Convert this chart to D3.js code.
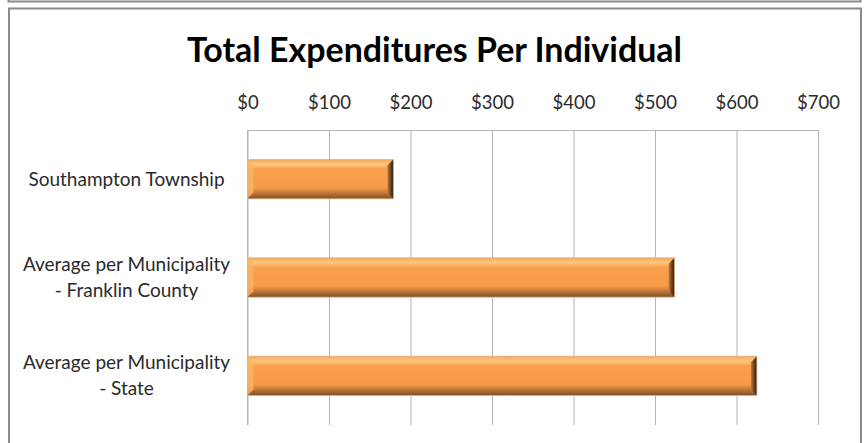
<!DOCTYPE html>
<html>
<head>
<meta charset="utf-8">
<script src="https://cdn.jsdelivr.net/npm/d3@7"></script>
<style>
  body { margin: 0; background: #fff; }
  svg { display: block; }
</style>
</head>
<body>
<div id="chart"></div>
<script>
var categories = [
  ["Southampton Township"],
  ["Average per Municipality", "- Franklin County"],
  ["Average per Municipality", "- State"]
];
var values = [179, 524, 625];
var tickValues = [0, 100, 200, 300, 400, 500, 600, 700];
var title = "Total Expenditures Per Individual";

var svg = d3.select("#chart").append("svg")
    .attr("width", 865)
    .attr("height", 443);

var margin = {top: 130, left: 247.5, right: 47, bottom: 18};
var width = 865 - margin.left - margin.right;
var height = 443 - margin.top - margin.bottom;

// frame of the chart above (only its bottom edge shows) and this chart's frame
svg.append("rect")
    .attr("x", 8.5).attr("y", -100)
    .attr("width", 852).attr("height", 101.5)
    .attr("fill", "none").attr("stroke", "#8a8a8a").attr("stroke-width", 2);
svg.append("rect")
    .attr("x", 9).attr("y", 8.5)
    .attr("width", 852).attr("height", 500)
    .attr("fill", "#fff").attr("stroke", "#8a8a8a").attr("stroke-width", 2);

svg.append("text")
    .attr("x", 434.5).attr("y", 62)
    .attr("text-anchor", "middle")
    .attr("font-family", "Lato, 'Open Sans', sans-serif")
    .attr("font-weight", "bold")
    .attr("font-size", "35px")
    .attr("textLength", 495)
    .attr("lengthAdjust", "spacingAndGlyphs")
    .attr("fill", "#000")
    .text(title);

var x = d3.scaleLinear().domain([0, 700]).range([0, width]);
var y = d3.scaleBand().domain(d3.range(categories.length)).range([0, height])
    .paddingInner(0.6).paddingOuter(0.3);

var g = svg.append("g").attr("transform", "translate(" + margin.left + "," + margin.top + ")");

// gridlines
g.append("g")
    .attr("class", "grid")
    .call(d3.axisBottom(x).tickValues(tickValues).tickSize(height).tickFormat(""))
    .call(function(s) {
      s.select(".domain").remove();
      s.selectAll("line").attr("stroke", "#b4b4b4");
    });

// top axis with labels
g.append("g")
    .call(d3.axisTop(x).tickValues(tickValues).tickSize(0).tickPadding(21)
      .tickFormat(function(d) { return "$" + d; }))
    .call(function(s) {
      s.select(".domain").attr("stroke", "#b4b4b4");
      s.selectAll("text")
        .attr("font-family", "Lato, sans-serif")
        .attr("font-size", "18.5px")
        .attr("fill", "#2a2a2a");
    });

// left axis line
g.append("line")
    .attr("x1", x(0)).attr("x2", x(0))
    .attr("y1", 0).attr("y2", height)
    .attr("stroke", "#b4b4b4");

// category labels
var labels = g.append("g");
categories.forEach(function(lines, i) {
  var cy = y(i) + y.bandwidth() / 2;
  var t = labels.append("text")
      .attr("x", -121)
      .attr("text-anchor", "middle")
      .attr("font-family", "Lato, sans-serif")
      .attr("font-size", "19px")
      .attr("fill", "#2a2a2a");
  lines.forEach(function(line, j) {
    t.append("tspan")
      .attr("x", -121)
      .attr("y", cy + 6.5 + (j - (lines.length - 1) / 2) * 26)
      .text(line);
  });
});

// gradients for the bevelled bars
var defs = svg.append("defs");
var body = defs.append("linearGradient").attr("id", "barBody")
    .attr("x1", 0).attr("y1", 0).attr("x2", 0).attr("y2", 1);
body.append("stop").attr("offset", "0%").attr("stop-color", "#f4a45e");
body.append("stop").attr("offset", "12%").attr("stop-color", "#fdc87c");
body.append("stop").attr("offset", "24%").attr("stop-color", "#f9a04e");
body.append("stop").attr("offset", "72%").attr("stop-color", "#f79a48");
body.append("stop").attr("offset", "84%").attr("stop-color", "#c47a3c");
body.append("stop").attr("offset", "100%").attr("stop-color", "#7e4f28");

var rightEnd = defs.append("linearGradient").attr("id", "barRight")
    .attr("x1", 0).attr("y1", 0).attr("x2", 1).attr("y2", 0);
rightEnd.append("stop").attr("offset", "0%").attr("stop-color", "#c98040");
rightEnd.append("stop").attr("offset", "50%").attr("stop-color", "#6e4624");
rightEnd.append("stop").attr("offset", "100%").attr("stop-color", "#2e1d10");

var b = 6;
var bars = g.selectAll(".bar").data(values).enter().append("g").attr("class", "bar");

bars.append("rect")
    .attr("x", x(0))
    .attr("y", function(d, i) { return y(i); })
    .attr("width", function(d) { return x(d) - x(0); })
    .attr("height", y.bandwidth())
    .attr("fill", "url(#barBody)");

// left bevel (light)
bars.append("polygon")
    .attr("points", function(d, i) {
      var x0 = x(0), y0 = y(i), y1 = y(i) + y.bandwidth();
      return [[x0, y0], [x0 + b, y0 + b], [x0 + b, y1 - b], [x0, y1]].join(" ");
    })
    .attr("fill", "#fbb466").attr("opacity", 0.8);

// right bevel (dark)
bars.append("polygon")
    .attr("points", function(d, i) {
      var x1 = x(d), y0 = y(i), y1 = y(i) + y.bandwidth();
      return [[x1 - b, y0 + b], [x1, y0], [x1, y1], [x1 - b, y1 - b]].join(" ");
    })
    .attr("fill", "url(#barRight)");

bars.append("rect")
    .attr("x", x(0))
    .attr("y", function(d, i) { return y(i); })
    .attr("width", function(d) { return x(d) - x(0); })
    .attr("height", y.bandwidth())
    .attr("fill", "none")
    .attr("stroke", "#e9b27f")
    .attr("stroke-width", 0.8);
</script>
</body>
</html>
